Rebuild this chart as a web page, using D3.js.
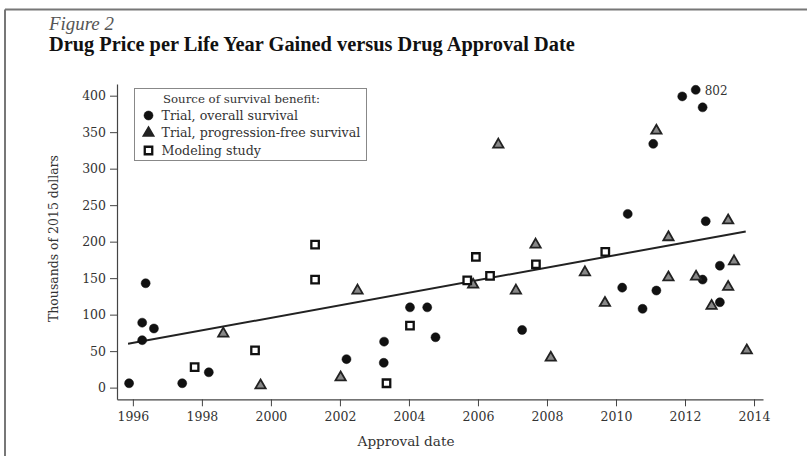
<!DOCTYPE html>
<html>
<head>
<meta charset="utf-8">
<script src="https://cdn.jsdelivr.net/npm/d3@7"></script>
<style>
  html, body { margin: 0; padding: 0; background: #fff; }
  svg { display: block; }
</style>
</head>
<body>
<svg id="chart" width="807" height="456"></svg>
<script>
// ---------------- DATA ----------------
const figureLabel = "Figure 2";
const titleText = "Drug Price per Life Year Gained versus Drug Approval Date";
const xLabel = "Approval date";
const yLabel = "Thousands of 2015 dollars";
const legendTitle = "Source of survival benefit:";
const seriesNames = ["Trial, overall survival", "Trial, progression-free survival", "Modeling study"];

const xTicks = [1996, 1998, 2000, 2002, 2004, 2006, 2008, 2010, 2012, 2014];
const yTicks = [0, 50, 100, 150, 200, 250, 300, 350, 400];

// Trial, overall survival (circles)
const osYear  = [1995.89, 1996.37, 1996.27, 1996.61, 1996.27, 1997.43, 1998.20, 2002.19, 2003.28, 2003.27,
                 2004.03, 2004.53, 2004.77, 2007.28, 2010.34, 2010.18, 2010.77, 2011.17, 2011.08, 2011.92,
                 2012.31, 2012.51, 2012.60, 2012.51, 2013.01, 2013.01];
const osValue = [6, 143, 89, 81, 65, 6, 21, 39, 63, 34,
                 110, 110, 69, 79, 238, 137, 108, 133, 334, 399,
                 408, 384, 228, 148, 167, 117];

// Trial, progression-free survival (triangles)
const pfsYear  = [1998.62, 1999.70, 2002.02, 2002.51, 2005.86, 2006.59, 2007.10, 2007.67, 2008.11, 2009.10,
                  2009.68, 2011.17, 2011.52, 2011.52, 2012.32, 2012.77, 2013.25, 2013.25, 2013.42, 2013.79];
const pfsValue = [74, 3, 14, 133, 141, 333, 133, 196, 41, 158,
                  116, 352, 206, 151, 152, 112, 229, 138, 173, 51];

// Modeling study (squares)
const modYear  = [1997.79, 1999.54, 2001.28, 2001.28, 2003.35, 2004.03, 2005.69, 2005.94, 2006.35, 2007.68, 2009.69];
const modValue = [28, 51, 148, 196, 6, 85, 147, 179, 153, 169, 186];

// Fitted linear trend line (endpoints)
const fitYear  = [1995.86, 2013.76];
const fitValue = [60, 214];

// Annotation for the off-scale point
const noteYear = [2012.31];
const noteValue = [408];
const noteText = ["802"];

// ---------------- DRAW ----------------
const svg = d3.select("#chart");
const FONT = "'DejaVu Serif', serif";

const x = d3.scaleLinear().domain([1995.54, 2014.26]).range([117, 763]);
const y = d3.scaleLinear().domain([-16, 416]).range([399.3, 84]);

function fitWidth(sel, w) {
  const n = sel.node();
  const cur = n.getComputedTextLength();
  const fs = parseFloat(sel.attr("font-size"));
  if (cur > 0) sel.attr("font-size", (fs * w / cur).toFixed(2));
  return parseFloat(sel.attr("font-size"));
}

// outer frame (top & left)
svg.append("line").attr("x1", 5).attr("y1", 9.5).attr("x2", 807).attr("y2", 9.5)
  .attr("stroke", "#777").attr("stroke-width", 2);
svg.append("line").attr("x1", 5).attr("y1", 9.5).attr("x2", 5).attr("y2", 456)
  .attr("stroke", "#777").attr("stroke-width", 2);

// titles
const fig = svg.append("text").attr("x", 49).attr("y", 30)
  .attr("font-family", "'Liberation Serif', serif").attr("font-style", "italic")
  .attr("font-size", 15).attr("fill", "#555").text(figureLabel);
fitWidth(fig, 65);

const ttl = svg.append("text").attr("x", 49).attr("y", 51)
  .attr("font-family", "'Liberation Serif', serif").attr("font-weight", "bold")
  .attr("font-size", 16).attr("fill", "#111").text(titleText);
fitWidth(ttl, 526);

// axes
const axisColor = "#444";
const gx = svg.append("g").attr("transform", `translate(0,${y.range()[0]})`)
  .call(d3.axisBottom(x).tickValues(xTicks).tickFormat(d3.format("d"))
        .tickSize(7).tickSizeOuter(0).tickPadding(6));
const gy = svg.append("g").attr("transform", `translate(${x.range()[0]},0)`)
  .call(d3.axisLeft(y).tickValues(yTicks).tickFormat(d3.format("d"))
        .tickSize(7).tickSizeOuter(0).tickPadding(4));
[gx, gy].forEach(g => {
  g.select(".domain").attr("stroke", axisColor).attr("stroke-width", 1.2);
  g.selectAll(".tick line").attr("stroke", axisColor).attr("stroke-width", 1);
  g.selectAll(".tick text").attr("font-family", FONT).attr("font-size", 12.5).attr("fill", "#333");
});

// axis titles
const xl = svg.append("text").attr("x", 406).attr("y", 446).attr("text-anchor", "middle")
  .attr("font-family", FONT).attr("font-size", 13).attr("fill", "#333").text(xLabel);
fitWidth(xl, 97);
const yl = svg.append("text").attr("transform", "translate(58,238.5) rotate(-90)")
  .attr("text-anchor", "middle")
  .attr("font-family", FONT).attr("font-size", 12).attr("fill", "#333").text(yLabel);
fitWidth(yl, 167);

// trend line
const fitPts = fitYear.map((t, i) => [t, fitValue[i]]);
svg.append("path").datum(fitPts)
  .attr("d", d3.line().x(d => x(d[0])).y(d => y(d[1])))
  .attr("fill", "none").attr("stroke", "#222").attr("stroke-width", 2);

// marker styles
const styles = [
  { type: d3.symbolCircle,   size: 64, fill: "#111", stroke: "#111", sw: 0.5 },
  { type: d3.symbolTriangle, size: 46, fill: "#888", stroke: "#222", sw: 1.8 },
  { type: d3.symbolSquare,   size: 56, fill: "#fff", stroke: "#111", sw: 2.3 }
];
const series = [
  osYear.map((t, i) => [t, osValue[i]]),
  pfsYear.map((t, i) => [t, pfsValue[i]]),
  modYear.map((t, i) => [t, modValue[i]])
];

series.forEach((pts, si) => {
  const st = styles[si];
  svg.append("g").selectAll("path").data(pts).join("path")
    .attr("transform", d => `translate(${x(d[0])},${y(d[1])})`)
    .attr("d", d3.symbol().type(st.type).size(st.size))
    .attr("fill", st.fill).attr("stroke", st.stroke).attr("stroke-width", st.sw);
});

// annotation
svg.append("g").selectAll("text").data(noteText).join("text")
  .attr("x", (d, i) => x(noteYear[i]) + 9)
  .attr("y", (d, i) => y(noteValue[i]) + 5)
  .attr("font-family", FONT).attr("font-size", 12).attr("fill", "#333")
  .text(d => d);

// legend
const lg = svg.append("g");
lg.append("rect").attr("x", 134.5).attr("y", 88.5).attr("width", 232).attr("height", 72)
  .attr("fill", "#fff").attr("stroke", "#888").attr("stroke-width", 1);
const lt = lg.append("text").attr("x", 163).attr("y", 102.5)
  .attr("font-family", FONT).attr("font-size", 10.5).attr("fill", "#333").text(legendTitle);
fitWidth(lt, 157);
const rowY = [115.5, 133, 150.5];
// size legend text from the widest row, then apply to all rows
const probe = lg.append("text").attr("font-family", FONT).attr("font-size", 11).text(seriesNames[1]);
const legendFs = fitWidth(probe, 199);
probe.remove();
seriesNames.forEach((name, i) => {
  const st = styles[i];
  lg.append("path").attr("transform", `translate(148.5,${rowY[i]})`)
    .attr("d", d3.symbol().type(st.type).size(i === 1 ? 44 : st.size))
    .attr("fill", i === 1 ? "#222" : st.fill).attr("stroke", st.stroke).attr("stroke-width", st.sw);
  lg.append("text").attr("x", 161.5).attr("y", rowY[i] + 4)
    .attr("font-family", FONT).attr("font-size", legendFs).attr("fill", "#333").text(name);
});
</script>
</body>
</html>
